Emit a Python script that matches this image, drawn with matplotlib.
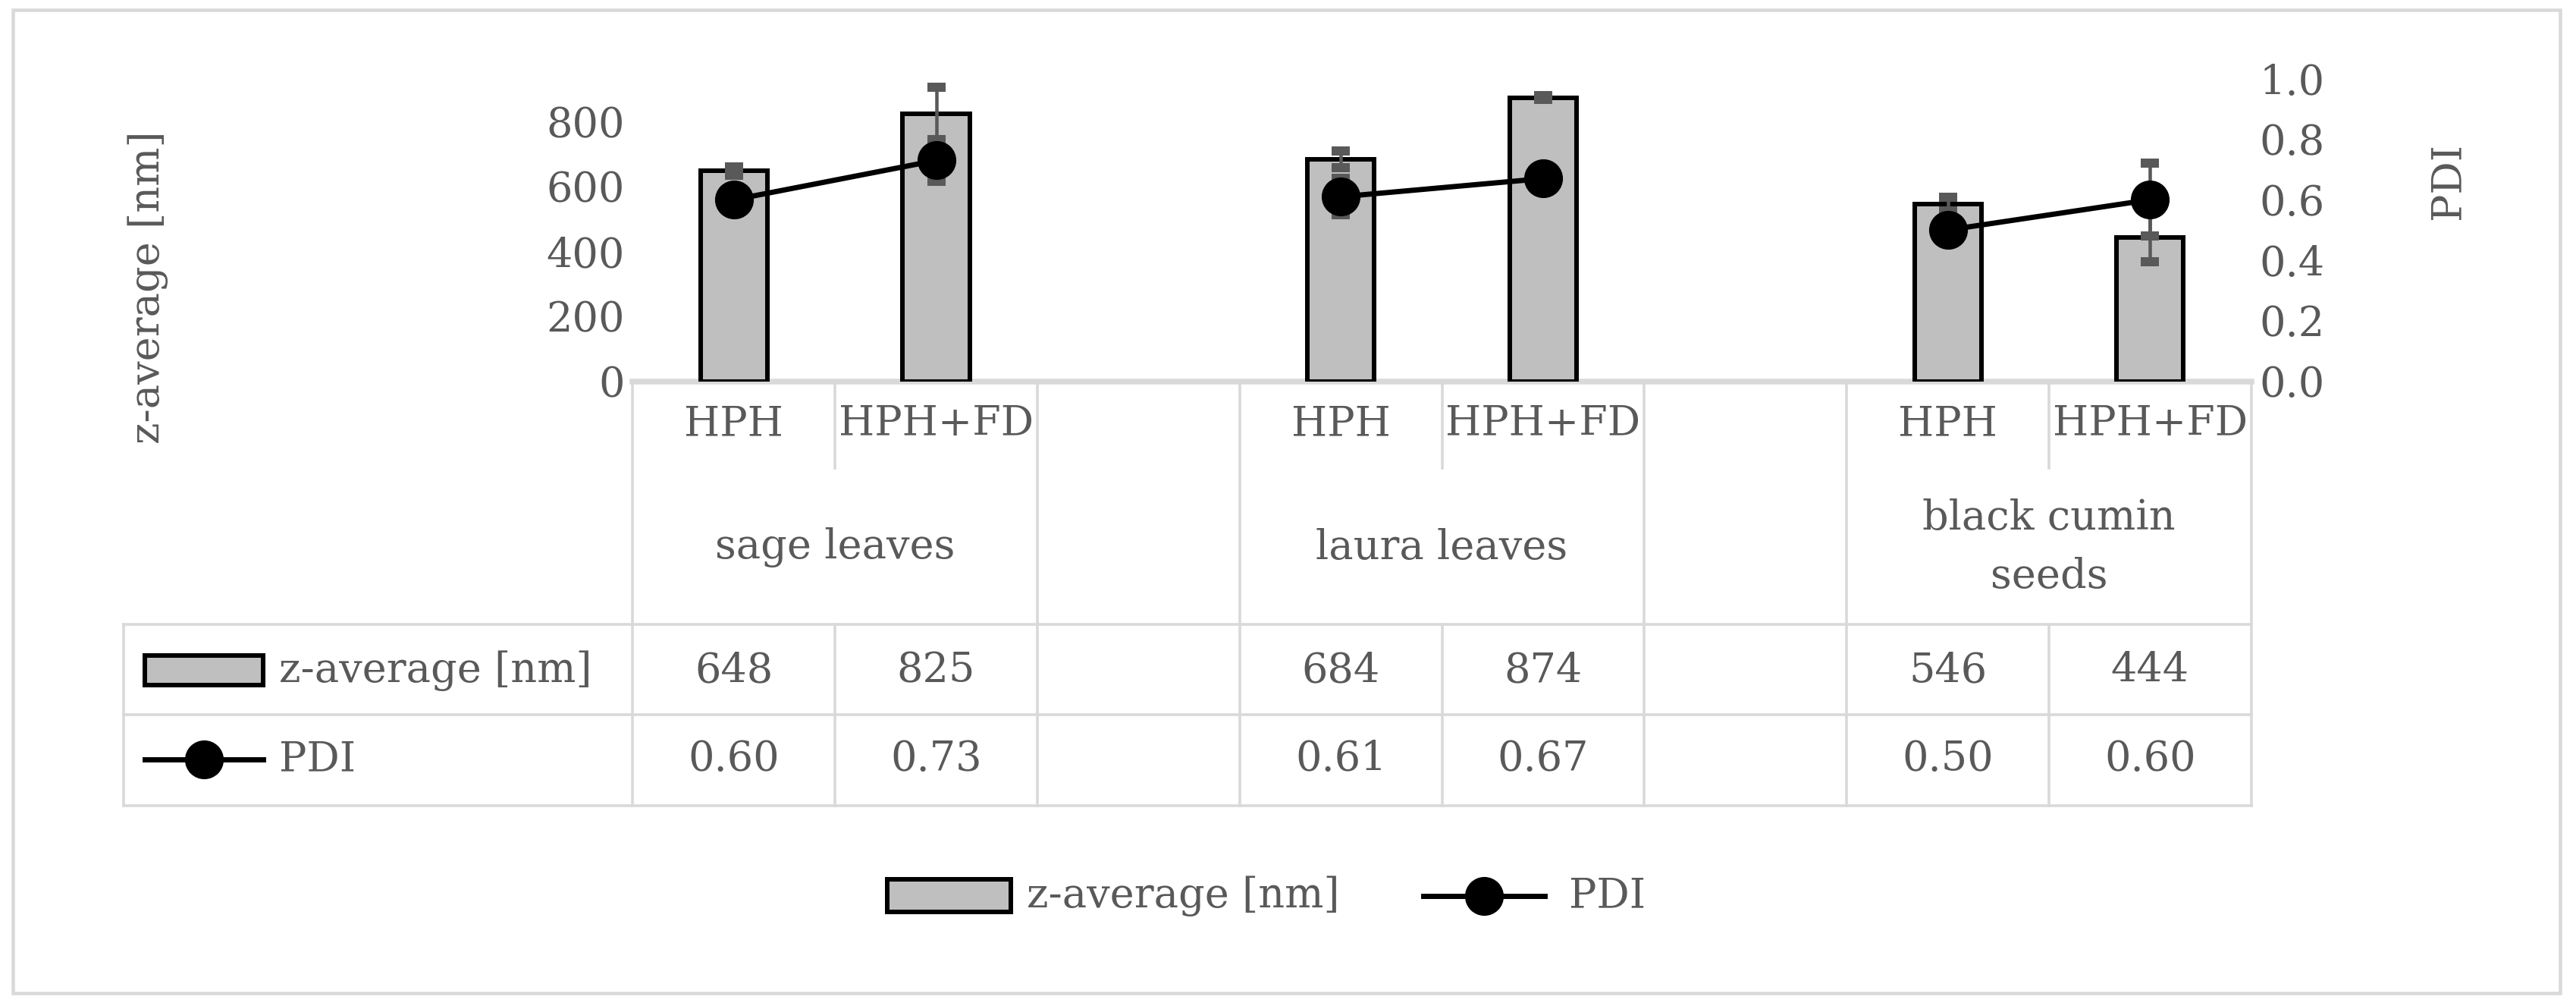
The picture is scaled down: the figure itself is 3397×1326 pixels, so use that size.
import numpy as np
import matplotlib.pyplot as plt
from matplotlib.patches import Rectangle

plt.rcParams['font.family'] = ['DejaVu Serif', 'Liberation Serif']

# data
slots = ['HPH', 'HPH+FD', '', 'HPH', 'HPH+FD', '', 'HPH', 'HPH+FD']
groups = ['sage leaves', 'laura leaves', 'black cumin\nseeds']
zavg = [648, 825, None, 684, 874, None, 546, 444]
zavg_err = [13, 80, None, 25, 5, None, 20, 76]
pdi = [0.60, 0.73, None, 0.61, 0.67, None, 0.50, 0.60]
pdi_err = [0.02, 0.07, None, 0.06, 0.0, None, 0.02, 0.12]

GRAY = '#595959'
LINE = '#d9d9d9'
FS = 18

W, H = 1568, 612
fig = plt.figure(figsize=(W / 100, H / 100), dpi=216.7)

# overlay in "pixel" coords
ov = fig.add_axes([0, 0, 1, 1])
ov.set_xlim(0, W)
ov.set_ylim(H, 0)
ov.axis('off')

x0, x1, ytop, ybot = 385, 1370, 48, 232
ax = fig.add_axes([x0 / W, (H - ybot) / H, (x1 - x0) / W, (ybot - ytop) / H])
ax2 = ax.twinx()

xs = np.arange(len(slots))
bx = [i for i in xs if zavg[i] is not None]
ax.bar(bx, [zavg[i] for i in bx], width=0.33, color='#bfbfbf', edgecolor='black', linewidth=2, zorder=2)
ax.errorbar(bx, [zavg[i] for i in bx], yerr=[zavg_err[i] for i in bx], fmt='none',
            ecolor=GRAY, elinewidth=1.5, capsize=4, capthick=4, zorder=3)
ax.set_xlim(-0.5, len(slots) - 0.5)
ax.set_ylim(0, 932)
ax.set_yticks(range(0, 801, 200))
ax.set_xticks([])

ax2.errorbar(bx, [pdi[i] for i in bx], yerr=[pdi_err[i] for i in bx], fmt='none',
             ecolor=GRAY, elinewidth=1.5, capsize=4, capthick=4, zorder=3)
for g in range(3):
    idx = [3 * g, 3 * g + 1]
    ax2.plot(idx, [pdi[i] for i in idx], color='black', lw=2.3, marker='o', ms=16, zorder=4)
ax2.set_ylim(0, 1.0)
ax2.set_yticks(np.arange(0, 1.01, 0.2))
ax2.set_yticklabels([f'{v:.1f}' for v in np.arange(0, 1.01, 0.2)])

for a in (ax, ax2):
    for s in a.spines.values():
        s.set_visible(False)
    a.tick_params(length=0, labelsize=FS, colors=GRAY)
ax.patch.set_visible(False)

# axis titles
ov.text(90, 175, 'z-average [nm]', rotation=90, ha='center', va='center', fontsize=FS, color=GRAY)
ov.text(1490, 110, 'PDI', rotation=90, ha='center', va='center', fontsize=FS, color=GRAY)

# table
sw = (x1 - x0) / len(slots)
bounds = [x0 + sw * k for k in range(len(slots) + 1)]
rows = [232, 380, 435, 490]
ov.plot([x0, x1], [232, 232], color=LINE, lw=2.5)
for y in rows[1:]:
    ov.plot([75, x1], [y, y], color=LINE, lw=1.2)
ov.plot([75, 75], [380, 490], color=LINE, lw=1.2)
for k, bxp in enumerate(bounds):
    if k in (1, 4, 7):
        ov.plot([bxp, bxp], [232, 285], color=LINE, lw=1.2)
        ov.plot([bxp, bxp], [380, 490], color=LINE, lw=1.2)
    else:
        ov.plot([bxp, bxp], [232, 490], color=LINE, lw=1.2)

for i, lab in enumerate(slots):
    cx = x0 + sw * (i + 0.5)
    ov.text(cx, 258, lab, ha='center', va='center', fontsize=FS, color=GRAY)
    if zavg[i] is not None:
        ov.text(cx, 408, f'{zavg[i]}', ha='center', va='center', fontsize=FS, color=GRAY)
        ov.text(cx, 462, f'{pdi[i]:.2f}', ha='center', va='center', fontsize=FS, color=GRAY)
for g, lab in enumerate(groups):
    cx = x0 + sw * (3 * g + 1)
    ov.text(cx, 333, lab, ha='center', va='center', fontsize=FS, color=GRAY, linespacing=1.6)

# table legend keys
ov.add_patch(Rectangle((88, 399), 72, 18, facecolor='#bfbfbf', edgecolor='black', lw=2))
ov.text(170, 408, 'z-average [nm]', va='center', fontsize=FS, color=GRAY)
ov.plot([88, 160], [462, 462], color='black', lw=2.3)
ov.plot([124], [462], 'o', color='black', ms=16)
ov.text(170, 462, 'PDI', va='center', fontsize=FS, color=GRAY)

# bottom legend
ov.add_patch(Rectangle((540, 535), 75, 20, facecolor='#bfbfbf', edgecolor='black', lw=2))
ov.text(625, 545, 'z-average [nm]', va='center', fontsize=FS, color=GRAY)
ov.plot([866, 940], [545, 545], color='black', lw=2.3)
ov.plot([903], [545], 'o', color='black', ms=16)
ov.text(955, 545, 'PDI', va='center', fontsize=FS, color=GRAY)

# outer border
ov.add_patch(Rectangle((8, 6), 1550, 598, fill=False, edgecolor=LINE, lw=1.5))

fig.savefig('out.png', dpi=216.7)
